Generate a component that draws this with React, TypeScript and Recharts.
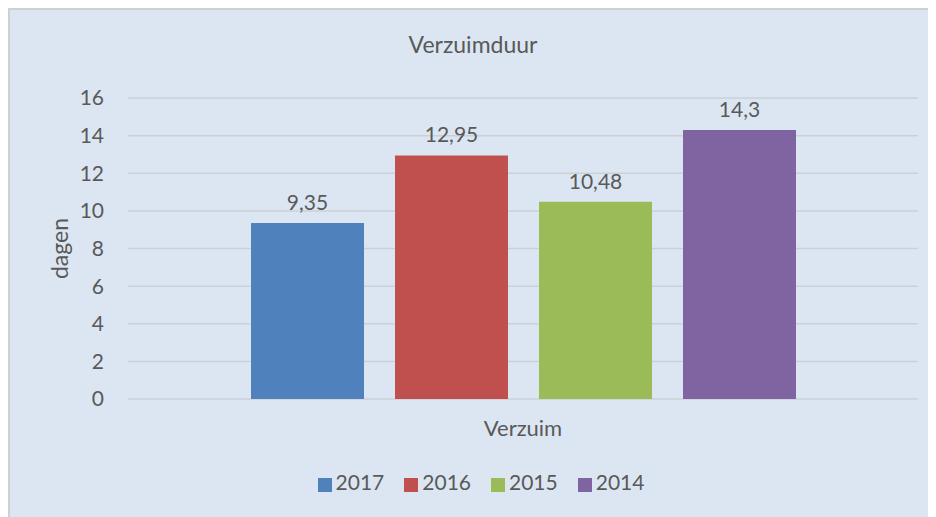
import { BarChart, Bar, XAxis, YAxis, CartesianGrid, Legend, LabelList } from 'recharts';

const categories = ['Verzuim'];
const seriesNames = ['2017', '2016', '2015', '2014'];
const seriesValues = [[9.35], [12.95], [10.48], [14.3]];
const seriesColors = ['#4f81bd', '#c0504d', '#9bbb59', '#8064a2'];
const yTicks = [0, 2, 4, 6, 8, 10, 12, 14, 16];

const data = categories.map((name, i) => {
  const row: Record<string, string | number> = { name };
  seriesNames.forEach((s, j) => {
    row[s] = seriesValues[j][i];
  });
  return row;
});

const font = 'Lato, "Open Sans", sans-serif';
const textColor = '#595959';

const fmt = (v: any) => String(v).replace('.', ',');

const App = () => {
  return (
    <div
      style={{
        position: 'relative',
        width: 926,
        height: 507,
        background: '#dce6f2',
        borderLeft: '2px solid #cdd1d6',
        borderTop: '2px solid #cdd1d6',
        fontFamily: font,
      }}
    >
      <div
        style={{
          position: 'absolute',
          top: 20,
          left: 0,
          width: 926,
          textAlign: 'center',
          fontSize: 23,
          color: textColor,
        }}
      >
        Verzuimduur
      </div>
      <BarChart
        width={926}
        height={507}
        data={data}
        margin={{ top: 88, right: 18, bottom: 88, left: 0 }}
        barSize={113}
        barGap={31}
      >
        <CartesianGrid vertical={false} stroke="#cbd0d6" strokeWidth={1.5} />
        <XAxis
          dataKey="name"
          height={30}
          axisLine={false}
          tickLine={false}
          tickSize={0}
          tickMargin={21}
          tick={{ fill: textColor, fontSize: 22, fontFamily: font }}
        />
        <YAxis
          width={118}
          domain={[0, 16]}
          ticks={yTicks}
          axisLine={false}
          tickLine={false}
          tickSize={0}
          tickMargin={24}
          tick={{ fill: textColor, fontSize: 21, fontFamily: font }}
          label={{
            value: 'dagen',
            angle: -90,
            position: 'insideLeft',
            offset: 50,
            style: { textAnchor: 'middle', fill: textColor, fontSize: 23, fontFamily: font },
          }}
        />
        <Legend
          verticalAlign="middle"
          align="center"
          iconType="square"
          iconSize={14}
          itemSorter={(item: any) => seriesNames.indexOf(String(item.value))}
          wrapperStyle={{ top: 459, left: 18, width: 926, fontSize: 21, fontFamily: font }}
          formatter={(value: any) => (
            <span style={{ color: textColor, marginRight: 10 }}>{value}</span>
          )}
        />
        {seriesNames.map((s, j) => (
          <Bar key={s} dataKey={s} fill={seriesColors[j]} isAnimationActive={false}>
            <LabelList
              dataKey={s}
              position="top"
              offset={13}
              formatter={fmt}
              style={{ fill: textColor, fontSize: 21, fontFamily: font }}
            />
          </Bar>
        ))}
      </BarChart>
    </div>
  );
};

export default App;
